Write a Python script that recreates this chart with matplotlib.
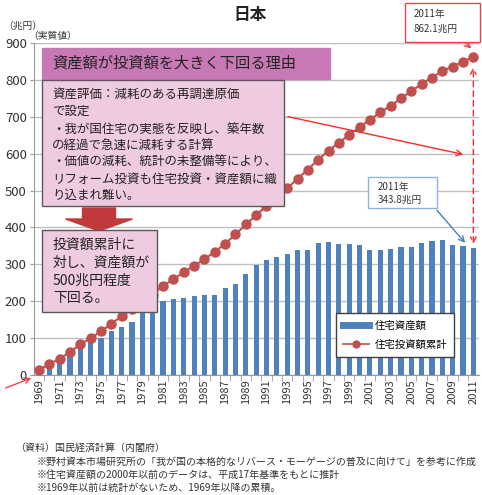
import matplotlib
matplotlib.use('Agg')

import matplotlib.pyplot as plt
from matplotlib.patches import Rectangle, FancyArrow
from matplotlib.lines import Line2D
import numpy as np

plt.rcParams['font.family'] = ['Noto Sans CJK JP', 'DejaVu Sans']

# data (兆円, 実質値)
years = list(range(1969, 2012))
asset = [10, 22, 38, 54, 76, 89, 100, 118, 129, 145,
         175, 190, 200, 206, 209, 215, 218, 218, 235, 247,
         275, 298, 313, 320, 329, 338, 338, 357, 361, 356,
         354, 352, 340, 338, 341, 346, 348, 359, 362, 367,
         352, 350, 343.8]
invest_cum = [13, 30, 44, 62, 83, 100, 118, 139, 160, 178,
              198, 218, 242, 260, 278, 296, 314, 334, 356, 381,
              408, 433, 459, 483, 506, 532, 557, 584, 608, 630,
              651, 672, 692, 712, 730, 750, 769, 789, 806, 824,
              836, 849, 862.1]
xlabels = [str(y) for y in years[::2]]

blue = '#4F81BD'
red = '#C0504D'
W, H = 482, 495


def fx(x):
    return x / W


def fy(y):
    return 1 - y / H


fig = plt.figure(figsize=(W / 100, H / 100), dpi=100)
ax = fig.add_axes([fx(33.8), fy(375), fx(478.5) - fx(33.8), fy(43) - fy(375)])

ax.bar(years, asset, width=0.5, color=blue, zorder=2, label='住宅資産額')
ax.plot(years, invest_cum, color=red, lw=1.5, marker='o', ms=6.5,
        zorder=3, label='住宅投資額累計')

ax.set_xlim(1968.5, 2011.5)
ax.set_ylim(0, 900)
ax.set_yticks(range(0, 901, 100))
ax.set_xticks(years[::2])
ax.set_xticklabels(xlabels, rotation=90, fontsize=8, color='#333333')
ax.set_xticks([y + 0.5 for y in years[:-1]], minor=True)
ax.tick_params(axis='x', which='major', length=0, pad=3)
ax.tick_params(axis='x', which='minor', length=4, color='#999999')
ax.tick_params(axis='y', length=3, color='#999999', labelsize=9.5,
               labelcolor='#333333', pad=2)
ax.grid(axis='y', color='#BFBFBF', lw=1, zorder=0)
ax.set_axisbelow(True)
for s in ['top', 'right']:
    ax.spines[s].set_visible(False)
ax.spines['left'].set_color('#999999')
ax.spines['bottom'].set_color('#999999')

# legend
handles = [Line2D([], [], color=blue, lw=5),
           Line2D([], [], color=red, lw=1.2, marker='o', ms=5)]
leg = ax.legend(handles, ['住宅資産額', '住宅投資額累計'], loc='upper left',
                bbox_to_anchor=(fx(336), fy(313)), bbox_transform=fig.transFigure,
                fontsize=7.5, frameon=True, fancybox=False, edgecolor='#404040',
                handlelength=2.5, handletextpad=0.5, borderpad=0.7,
                labelspacing=0.9, borderaxespad=0, framealpha=1)
leg.get_frame().set_linewidth(1.0)

# title and units
fig.text(fx(250), fy(15), '日本', ha='center', va='center', fontsize=12,
         fontweight='bold', color='#222222')
fig.text(fx(3), fy(26), '（兆円）', ha='left', va='center', fontsize=7, color='#333333')
fig.text(fx(28), fy(36), '（実質値）', ha='left', va='center', fontsize=7, color='#333333')

# header box
fig.add_artist(Rectangle((fx(42), fy(79)), fx(330) - fx(42), fy(48) - fy(79),
                         transform=fig.transFigure, facecolor='#C878B4',
                         edgecolor='#C878B4', zorder=4))
fig.text(fx(52), fy(63), '資産額が投資額を大きく下回る理由', ha='left', va='center',
         fontsize=11, color='#222222', zorder=5)

# explanation box
fig.add_artist(Rectangle((fx(42), fy(206)), fx(284) - fx(42), fy(80) - fy(206),
                         transform=fig.transFigure, facecolor='#EFCBE1',
                         edgecolor='#595959', lw=1, zorder=4))
lines = ['資産評価：減耗のある再調達原価',
         'で設定',
         '・我が国住宅の実態を反映し、築年数',
         'の経過で急速に減耗する計算',
         '・価値の減耗、統計の未整備等により、',
         'リフォーム投資も住宅投資・資産額に織',
         'り込まれ難い。']
ly = [94, 111, 129, 145, 162, 179, 195]
for t, y in zip(lines, ly):
    fig.text(fx(52), fy(y), t, ha='left', va='center', fontsize=9,
             color='#222222', zorder=5)

# down arrow
fig.add_artist(FancyArrow(fx(99), fy(208), 0, fy(231) - fy(208),
                          width=fx(116) - fx(83), head_width=fx(133) - fx(66),
                          head_length=fy(219) - fy(231),
                          length_includes_head=True, transform=fig.transFigure,
                          color='#C0393B', zorder=4))

# conclusion box
fig.add_artist(Rectangle((fx(42), fy(312)), fx(157) - fx(42), fy(230) - fy(312),
                         transform=fig.transFigure, facecolor='#EFCBE1',
                         edgecolor='#595959', lw=1, zorder=4))
for t, y in zip(['投資額累計に', '対し、資産額が', '500兆円程度', '下回る。'],
                [245, 263, 281, 298]):
    fig.text(fx(53), fy(y), t, ha='left', va='center', fontsize=10,
             color='#222222', zorder=5)

# 862.1 label
fig.add_artist(Rectangle((fx(405), fy(42)), fx(480) - fx(405), fy(3) - fy(42),
                         transform=fig.transFigure, facecolor='white',
                         edgecolor='#E8464B', lw=1, zorder=4))
fig.text(fx(414), fy(14), '2011年', fontsize=7, va='center', color='#333333', zorder=5)
fig.text(fx(414), fy(29), '862.1兆円', fontsize=7, va='center', color='#333333', zorder=5)
ax.annotate('', xy=(2011, 880), xycoords='data',
            xytext=(fx(464), fy(42)), textcoords='figure fraction',
            arrowprops=dict(arrowstyle='->', color='#E8464B', lw=1),
            annotation_clip=False)

# 343.8 label
fig.add_artist(Rectangle((fx(368), fy(208)), fx(437) - fx(368), fy(177) - fy(208),
                         transform=fig.transFigure, facecolor='white',
                         edgecolor='#8EB4E3', lw=1, zorder=4))
fig.text(fx(378), fy(187), '2011年', fontsize=7, va='center', color='#333333', zorder=5)
fig.text(fx(378), fy(200), '343.8兆円', fontsize=7, va='center', color='#333333', zorder=5)
ax.annotate('', xy=(fx(467), fy(245)), xycoords='figure fraction',
            xytext=(fx(435), fy(208)), textcoords='figure fraction',
            arrowprops=dict(arrowstyle='->', color='#4A7EBB', lw=1),
            annotation_clip=False)

# dashed gap arrow
ax.annotate('', xy=(2011, 842), xytext=(2011, 348),
            arrowprops=dict(arrowstyle='<->', color='#FF2A2A', lw=1,
                            linestyle=(0, (4, 3))))
# arrow from explanation box to the gap
ax.annotate('', xy=(fx(466), fy(155)), xycoords='figure fraction',
            xytext=(fx(285), fy(116)), textcoords='figure fraction',
            arrowprops=dict(arrowstyle='->', color='#FF2A2A', lw=1),
            annotation_clip=False)
# arrow to origin
ax.annotate('', xy=(fx(34), fy(377)), xycoords='figure fraction',
            xytext=(fx(3), fy(389)), textcoords='figure fraction',
            arrowprops=dict(arrowstyle='->', color='#E8464B', lw=1),
            annotation_clip=False)

# notes
notes = [(15, 448, '（資料）国民経済計算（内閣府）'),
         (37, 462, '※野村資本市場研究所の「我が国の本格的なリバース・モーゲージの普及に向けて」を参考に作成'),
         (37, 475, '※住宅資産額の2000年以前のデータは、平成17年基準をもとに推計'),
         (37, 488, '※1969年以前は統計がないため、1969年以降の累積。')]
for x, y, t in notes:
    fig.text(fx(x), fy(y), t, fontsize=7.2, va='center', ha='left', color='#333333')

fig.savefig('out.png', dpi=100)
